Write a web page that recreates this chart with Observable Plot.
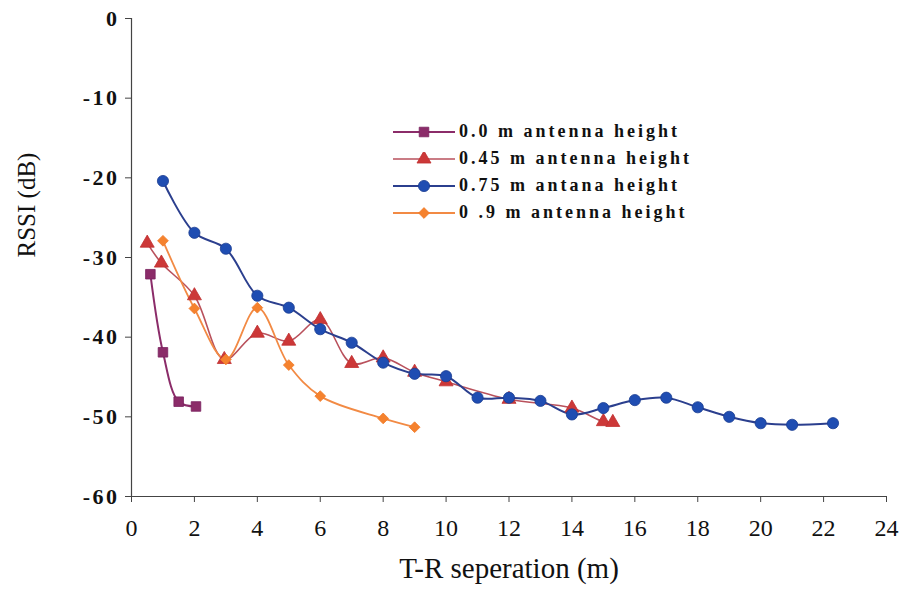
<!DOCTYPE html>
<html>
<head>
<meta charset="utf-8">
<script src="https://cdn.jsdelivr.net/npm/d3@7"></script>
<script src="https://cdn.jsdelivr.net/npm/@observablehq/plot@0.6"></script>
<style>
  body { margin: 0; background: #fff; }
  #wrap { position: relative; width: 905px; height: 597px; }
  #wrap svg g[aria-label="x-axis tick label"] text { font-size: 24px; }
  #wrap svg g[aria-label="y-axis tick label"] text { font-size: 22px; font-weight: bold; letter-spacing: 2.5px; }
  #legend {
    position: absolute; left: 393px; top: 118px;
    font-family: "Liberation Serif", serif; font-weight: bold;
    font-size: 18px; letter-spacing: 3px; color: #111;
  }
  #legend .row { display: flex; align-items: center; height: 27px; }
  #legend svg { margin-right: 4px; }
</style>
</head>
<body>
<div id="wrap"></div>
<script>
// RSSI measurements against transmitter–receiver separation, one series per antenna height
const seriesNames = [
  "0.0 m antenna height",
  "0.45 m antenna height",
  "0.75 m antana height",
  "0 .9 m antenna height"
];

const x00 = [0.6, 1, 1.5, 2.05];
const y00 = [-32.1, -41.9, -48.1, -48.7];

const x045 = [0.5, 0.95, 2, 2.95, 4, 5, 6, 7, 8, 9, 10, 12, 14, 15, 15.3];
const y045 = [-28.2, -30.7, -34.8, -42.8, -39.5, -40.5, -37.8, -43.3, -42.6, -44.4, -45.6, -47.8, -48.9, -50.6, -50.7];

const x075 = [1, 2, 3, 4, 5, 6, 7, 8, 9, 10, 11, 12, 13, 14, 15, 16, 17, 18, 19, 20, 21, 22.3];
const y075 = [-20.4, -26.9, -28.9, -34.8, -36.3, -39.0, -40.7, -43.2, -44.6, -44.9, -47.6, -47.6, -48.0, -49.7, -48.9, -47.9, -47.6, -48.8, -50.0, -50.8, -51.0, -50.8];

const x09 = [1, 2, 3, 4, 5, 6, 8, 9];
const y09 = [-27.9, -36.4, -42.8, -36.3, -43.5, -47.4, -50.2, -51.3];

const xTicks = [0, 2, 4, 6, 8, 10, 12, 14, 16, 18, 20, 22, 24];
const yTicks = [0, -10, -20, -30, -40, -50, -60];

const xTitle = "T-R seperation (m)";
const yTitle = "RSSI (dB)";

// a filled diamond drawn as a square turned on its corner
const diamond = {
  draw(ctx, size) {
    const d = Math.sqrt(size / 2);
    ctx.moveTo(0, -d); ctx.lineTo(d, 0); ctx.lineTo(0, d); ctx.lineTo(-d, 0); ctx.closePath();
  }
};

const styles = [
  { line: "#8b2c69", fill: "#8b2c69", stroke: "#7a2260", symbol: "square", r: 5.4, width: 2 },
  { line: "#b9515c", fill: "#cc3838", stroke: "#c03030", symbol: "triangle", r: 5.2, width: 1.6 },
  { line: "#2b3f8e", fill: "#1f4db2", stroke: "#1a3c90", symbol: "circle", r: 5.6, width: 2 },
  { line: "#f28a44", fill: "#f5822e", stroke: "#f07a28", symbol: diamond, r: 4.3, width: 1.8 }
];

const cols = [[x00, y00], [x045, y045], [x075, y075], [x09, y09]];
const tables = cols.map(([xs, ys], i) => xs.map((x, j) => ({ series: seriesNames[i], x, y: ys[j] })));

const marks = [
  Plot.axisX({ ticks: xTicks, tickSize: 6, tickPadding: 16, label: null, stroke: "#444" }),
  Plot.axisY({ ticks: yTicks, tickSize: 6, tickPadding: 6, label: null, stroke: "#444", tickFormat: d => String(d) }),
  Plot.ruleX([0], { stroke: "#444", strokeWidth: 1.2 }),
  Plot.ruleY([-60], { stroke: "#444", strokeWidth: 1.2 }),
  Plot.text([xTitle], { frameAnchor: "bottom", dy: 81, fontSize: 29, fill: "#111", text: d => d }),
  Plot.text([yTitle], { frameAnchor: "left", dx: -105, rotate: -90, fontSize: 25, fill: "#111", text: d => d })
];

tables.forEach((t, i) => {
  const s = styles[i];
  marks.push(Plot.line(t, { x: "x", y: "y", stroke: s.line, strokeWidth: s.width, curve: "catmull-rom" }));
});
tables.forEach((t, i) => {
  const s = styles[i];
  marks.push(Plot.dot(t, { x: "x", y: "y", symbol: () => s.symbol, fill: s.fill, stroke: s.stroke, strokeWidth: 0.8, r: s.r }));
});

const chart = Plot.plot({
  width: 905,
  height: 597,
  marginLeft: 131,
  marginRight: 19,
  marginTop: 18,
  marginBottom: 101,
  x: { domain: [0, 24] },
  y: { domain: [-60, 0] },
  symbol: { type: "identity" },
  style: { fontFamily: "Liberation Serif, serif", background: "#fff", color: "#111" },
  marks
});

const wrap = document.getElementById("wrap");
wrap.appendChild(chart);

// legend box drawn over the upper-middle of the plot area
const legend = document.createElement("div");
legend.id = "legend";
seriesNames.forEach((name, i) => {
  const s = styles[i];
  const row = document.createElement("div");
  row.className = "row";
  const sw = d3.create("svg").attr("width", 62).attr("height", 14);
  sw.append("line").attr("x1", 0).attr("x2", 62).attr("y1", 7).attr("y2", 7)
    .attr("stroke", s.line).attr("stroke-width", s.width);
  const sym = typeof s.symbol === "string"
    ? { square: d3.symbolSquare, triangle: d3.symbolTriangle, circle: d3.symbolCircle }[s.symbol]
    : s.symbol;
  sw.append("path").attr("transform", "translate(31,7)")
    .attr("d", d3.symbol(sym, Math.PI * s.r * s.r)())
    .attr("fill", s.fill).attr("stroke", s.stroke).attr("stroke-width", 0.8);
  row.appendChild(sw.node());
  const label = document.createElement("span");
  label.textContent = name;
  row.appendChild(label);
  legend.appendChild(row);
});
wrap.appendChild(legend);
</script>
</body>
</html>
